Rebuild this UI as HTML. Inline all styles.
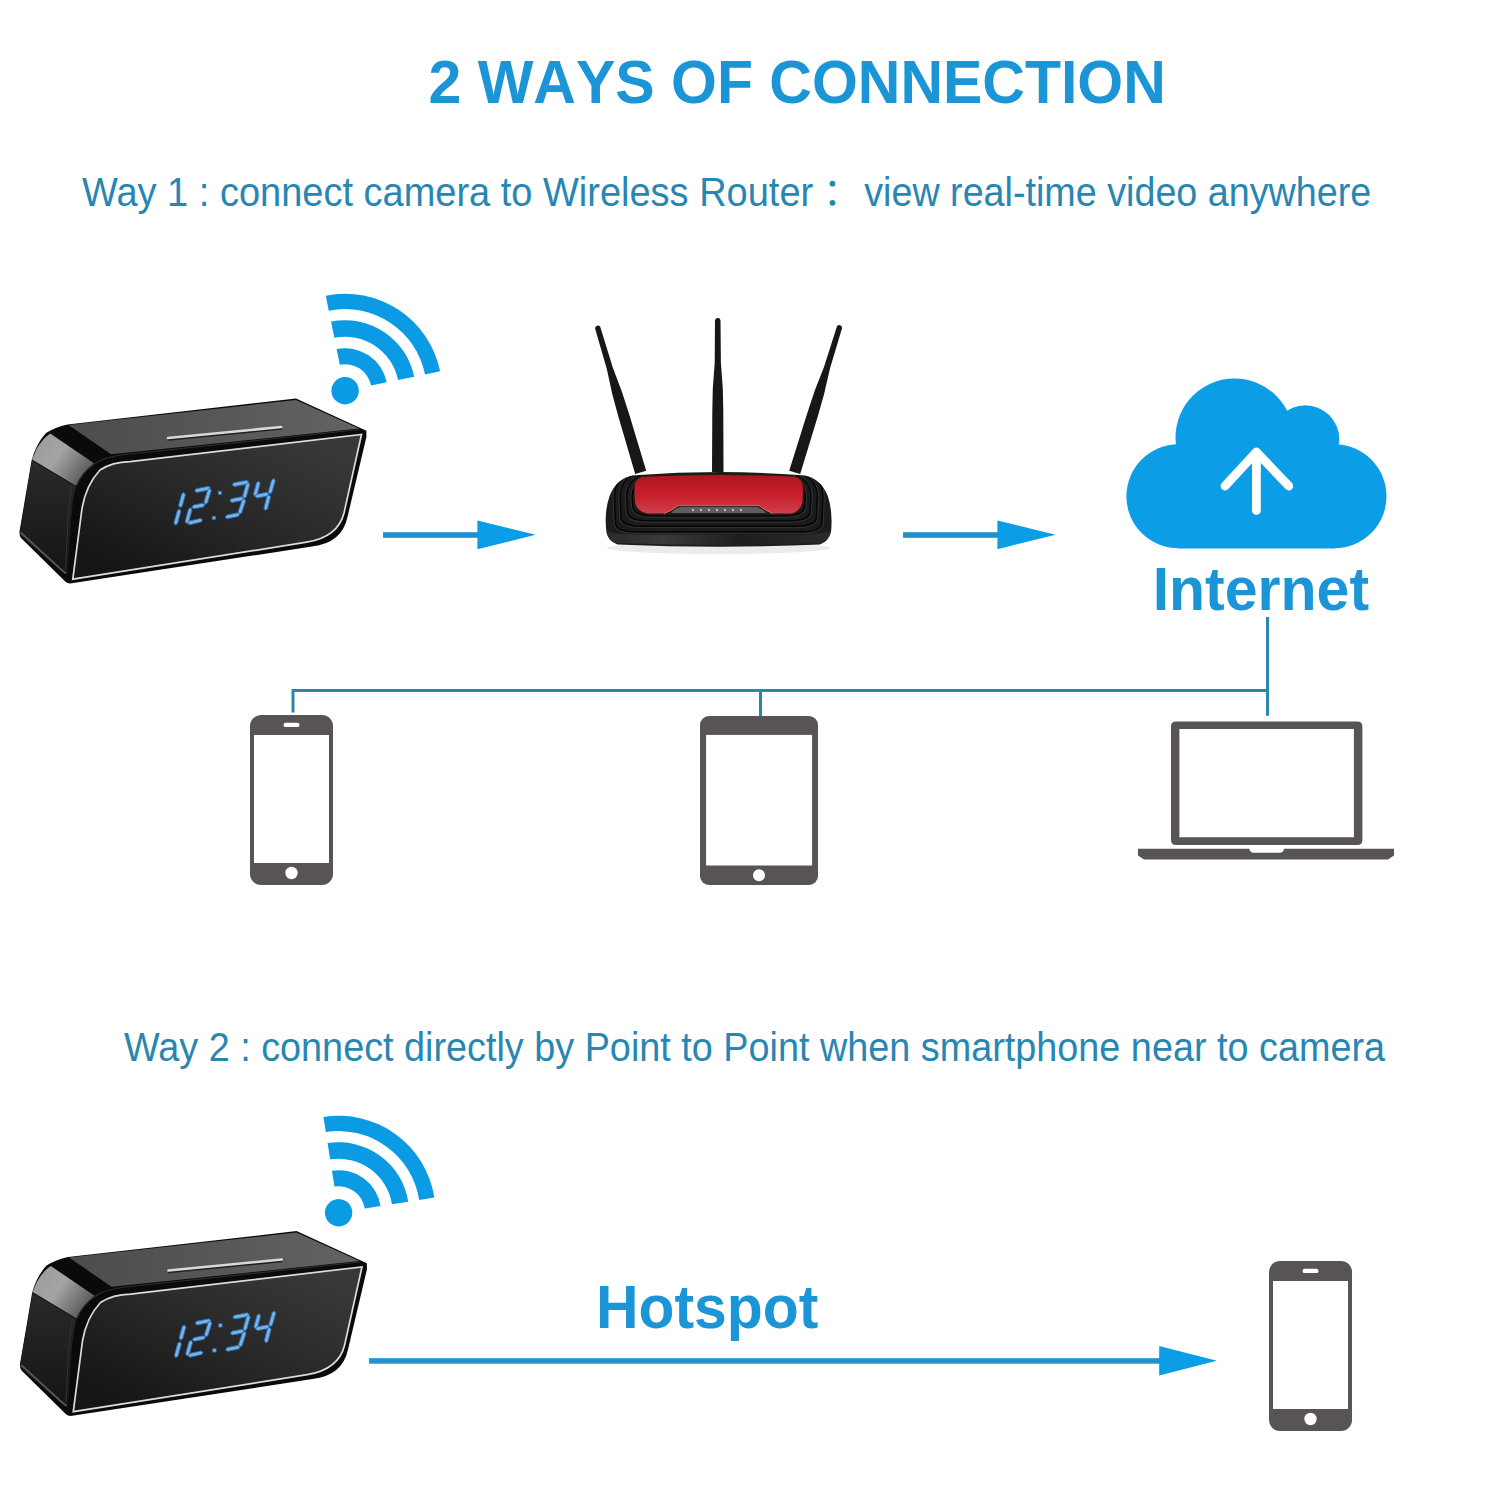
<!DOCTYPE html>
<html><head><meta charset="utf-8">
<style>
html,body{margin:0;padding:0;background:#fff;}
body{width:1500px;height:1500px;overflow:hidden;position:relative;}
svg{position:absolute;left:0;top:0;display:block;}
text{font-family:"Liberation Sans",sans-serif;}
</style></head>
<body>
<svg width="1500" height="1500" viewBox="0 0 1500 1500">
<defs>
  <linearGradient id="topface" x1="0" y1="0.5" x2="1" y2="0.5">
    <stop offset="0" stop-color="#4c4c4c"/>
    <stop offset="0.5" stop-color="#575757"/>
    <stop offset="1" stop-color="#636363"/>
  </linearGradient>
  <linearGradient id="leftface" x1="0" y1="0" x2="0" y2="1">
    <stop offset="0" stop-color="#2a2a2a"/>
    <stop offset="1" stop-color="#141414"/>
  </linearGradient>
  <linearGradient id="front" x1="0.1" y1="0.9" x2="0.9" y2="0.1">
    <stop offset="0" stop-color="#151515"/>
    <stop offset="0.5" stop-color="#282828"/>
    <stop offset="1" stop-color="#383838"/>
  </linearGradient>
  <linearGradient id="hl" x1="0" y1="0" x2="1" y2="0.6">
    <stop offset="0" stop-color="#9a9a9a"/>
    <stop offset="0.5" stop-color="#a4a4a4"/>
    <stop offset="1" stop-color="#5a5a5a"/>
  </linearGradient>
  <linearGradient id="bump" x1="0" y1="0" x2="1" y2="0">
    <stop offset="0" stop-color="#2a2a2a"/>
    <stop offset="0.25" stop-color="#3a3a3a"/>
    <stop offset="0.6" stop-color="#1e1e1e"/>
    <stop offset="1" stop-color="#2a2a2a"/>
  </linearGradient>
  <linearGradient id="red" x1="0" y1="0" x2="0" y2="1">
    <stop offset="0" stop-color="#b0161f"/>
    <stop offset="0.55" stop-color="#c6202c"/>
    <stop offset="1" stop-color="#d0404c"/>
  </linearGradient>

  <clipPath id="bodyclip"><path d="M 635.2 475.2 Q 720 469 802.2 475.2 Q 820 477 827.8 496 Q 833 512 831 532 Q 829 541 820 544.5 Q 720 549 617.4 544.5 Q 608 541 606.4 532 Q 604 512 609.6 496 Q 617 477 635.2 475.2 Z"/></clipPath>
  <g id="wifi">
    <circle cx="0" cy="0" r="13.7" fill="#0a9be4"/>
    <path d="M 0 -42.5 A 42.5 42.5 0 0 1 42.5 0 L 26.5 0 A 26.5 26.5 0 0 0 0 -26.5 Z" fill="#0a9be4"/>
    <path d="M 0 -70.5 A 70.5 70.5 0 0 1 70.5 0 L 54 0 A 54 54 0 0 0 0 -54 Z" fill="#0a9be4"/>
    <path d="M 0 -97 A 97 97 0 0 1 97 0 L 81.6 0 A 81.6 81.6 0 0 0 0 -81.6 Z" fill="#0a9be4"/>
  </g>

  <g id="clock">
    <!-- silhouette -->
    <path d="M 67.6 424.4 L 296 398.6 L 366.4 430.7 L 366.4 437 L 347.5 517 Q 342 543 312 546.5 L 70 583.6 Q 67.5 583.6 65.5 581.8 L 21 538 Q 19 535 19.6 531 L 31.6 460.4 Q 36 444 46 433 Q 55 427 67.6 424.4 Z" fill="#0a0a0a"/>
    <!-- top face -->
    <path d="M 68.5 425 L 296 400 L 359 428.5 L 111 454.2 Z" fill="url(#topface)"/>
    <!-- highlight band on rounded left edge -->
    <path d="M 36.3 449.4 Q 42 439 50.2 433.4 L 94 463.3 Q 82 474 75.8 485.7 L 32.1 459.5 Z" fill="url(#hl)"/>
    <!-- left face -->
    <path d="M 32.1 460.5 L 75.8 486.7 Q 72.5 500 71 520 L 67.5 576 L 22 537 Q 19.8 534 20.2 530 Z" fill="url(#leftface)"/>
    <!-- bottom edge highlight -->
    <path d="M 20.6 532.5 L 60 568.5 L 66 573.5" fill="none" stroke="#555" stroke-width="1.8"/>
    <path d="M 72 486 Q 69 500 68 520 L 65.5 570" fill="none" stroke="#333" stroke-width="1"/>
    <!-- rim gloss lines -->
    <path d="M 76.5 486 Q 82 472 95 463.5 Q 104 457 125 454.5 L 359.5 429.5" fill="none" stroke="#2c2c2c" stroke-width="1.2"/>
    <!-- front face panel -->
    <path d="M 130 461.6 L 361.5 434.4 L 344 513 Q 338 537 306.7 542.2 L 72.8 579.2 L 82 508.4 Q 86 485 100 470 Q 112 462 130 461.6 Z" fill="url(#front)" stroke="#dcdcdc" stroke-width="1.7"/>
    <!-- highlight bar -->
    <path d="M 168 439.8 L 281.3 428.8" stroke="#202020" stroke-width="1.8" stroke-linecap="round"/>
    <path d="M 168 438 L 281.3 427" stroke="#d8d8d8" stroke-width="2.6" stroke-linecap="round"/>
    <!-- digits -->
    <g fill="#72b4ea" stroke="#2a66a8" stroke-width="0.9" stroke-linejoin="round">
      <polygon points="184.0,492.4 181.7,493.8 178.6,505.3 180.0,507.6 182.3,506.2 185.4,494.7"/>
      <polygon points="179.6,509.2 177.3,510.6 173.9,522.8 175.2,525.2 177.5,523.8 180.9,511.6"/>
      <polygon points="194.6,491.0 196.8,492.5 209.1,490.1 210.6,487.8 208.4,486.3 196.1,488.7"/>
      <polygon points="210.0,488.4 207.7,489.7 203.9,502.0 205.2,504.4 207.5,503.1 211.3,490.8"/>
      <polygon points="191.8,507.4 194.1,508.8 203.5,506.9 205.0,504.6 202.7,503.2 193.3,505.1"/>
      <polygon points="190.8,507.6 188.5,509.0 185.1,521.2 186.4,523.6 188.7,522.2 192.1,510.0"/>
      <polygon points="187.4,523.4 189.7,524.8 201.2,522.1 202.6,519.8 200.3,518.4 188.8,521.1"/>
      <polygon points="232.2,484.9 234.4,486.5 247.5,484.1 249.0,481.9 246.8,480.3 233.7,482.7"/>
      <polygon points="248.4,482.4 246.1,483.8 242.7,496.0 244.0,498.4 246.3,497.0 249.7,484.8"/>
      <polygon points="229.8,501.0 232.0,502.5 242.3,500.5 243.8,498.2 241.6,496.7 231.3,498.7"/>
      <polygon points="244.5,498.8 242.0,500.0 238.0,511.9 239.1,514.4 241.6,513.2 245.6,501.3"/>
      <polygon points="225.0,517.4 227.3,518.8 238.3,516.5 239.8,514.2 237.5,512.8 226.5,515.1"/>
      <polygon points="258.8,481.2 256.5,482.6 253.4,494.1 254.8,496.4 257.1,495.0 260.2,483.5"/>
      <polygon points="274.0,478.4 271.7,479.7 268.3,491.6 269.6,494.0 271.9,492.7 275.3,480.8"/>
      <polygon points="255.0,496.6 257.2,498.1 267.5,496.1 269.0,493.8 266.8,492.3 256.5,494.3"/>
      <polygon points="269.2,494.8 266.9,496.2 263.8,508.1 265.2,510.4 267.5,509.0 270.6,497.1"/>
    </g>
    <rect x="218.2" y="491.2" width="3.4" height="3.4" fill="#72b4ea" stroke="#2a66a8" stroke-width="0.7"/>
    <rect x="212.2" y="516.2" width="3.4" height="3.4" fill="#72b4ea" stroke="#2a66a8" stroke-width="0.7"/>
  </g>

  <g id="phone">
    <rect x="0" y="0" width="83" height="170" rx="11" fill="#585455"/>
    <rect x="4" y="20" width="75" height="128" fill="#fff"/>
    <rect x="33.5" y="7.7" width="16" height="4.4" rx="2.2" fill="#fff"/>
    <circle cx="41.5" cy="158" r="6.2" fill="#fff"/>
  </g>
</defs>

<!-- Title -->
<text x="428.5" y="103" font-size="59" style="font-kerning:none" transform="translate(0 103) scale(1 1.03) translate(0 -103)" font-weight="bold" fill="#1b95d6">2 WAYS OF CONNECTION</text>
<text x="82" y="206" font-size="38" fill="#2886b2" transform="translate(0 206) scale(1 1.055) translate(0 -206)">Way 1 : connect camera to Wireless Router</text>
<circle cx="832.5" cy="183.7" r="2.9" fill="#2886b2"/><circle cx="832.5" cy="202.8" r="2.9" fill="#2886b2"/>
<text id="v1" x="864.2" y="206" font-size="37.7" fill="#2886b2" transform="translate(0 206) scale(1 1.055) translate(0 -206)">view real-time video anywhere</text>

<!-- clock 1 + wifi -->
<use href="#clock"/>
<use href="#wifi" transform="translate(345.1 390.7) rotate(-11.5)"/>

<!-- arrows -->
<g fill="#1e90cf">
  <rect x="383" y="532.2" width="95" height="5.6"/>
  <rect x="903" y="532.2" width="95" height="5.6"/>
</g>
<g fill="#0b9de6">
  <polygon points="477.4,520.4 535.6,534.8 477.4,549.2"/>
  <polygon points="997.4,520.4 1055.6,534.8 997.4,549.2"/>
</g>

<!-- router -->
<g id="router">
  <g fill="#171717">
  <path d="M 595.1 328.5 L 606.8 369.1 L 612.3 394.2 L 618.2 416.1 L 635.2 474.0 L 646.2 470.8 L 628.8 413.0 L 621.8 391.4 L 612.7 367.3 L 600.3 326.9 A 2.8 2.8 0 0 0 595.1 328.5 Z"/>
  <path d="M 715.0 320.3 L 714.7 362.8 L 712.8 388.6 L 712.3 411.3 L 712.0 472.0 L 723.5 472.0 L 723.3 411.3 L 722.8 388.6 L 720.9 362.8 L 720.5 320.3 A 2.8 2.8 0 0 0 715.0 320.3 Z"/>
  <path d="M 836.9 326.4 L 824.0 366.9 L 814.6 391.1 L 807.4 412.7 L 789.2 470.7 L 800.2 474.1 L 817.9 415.9 L 824.1 394.0 L 829.9 368.8 L 842.1 328.0 A 2.8 2.8 0 0 0 836.9 326.4 Z"/>
  </g>
  <!-- shadow -->
  <ellipse cx="718.7" cy="548" rx="112" ry="6" fill="#000" opacity="0.08"/>
  <!-- body silhouette -->
  <path d="M 635.2 475.2 Q 720 469 802.2 475.2 Q 820 477 827.8 496 Q 833 512 831 532 Q 829 541 820 544.5 Q 720 549 617.4 544.5 Q 608 541 606.4 532 Q 604 512 609.6 496 Q 617 477 635.2 475.2 Z" fill="#1b1b1b"/>
  <!-- bumper highlight -->
  <path d="M 607 531 Q 612 534 640 534.5 L 797 534.5 Q 825 534 830.5 531 Q 830 540 820 543 Q 720 547 617 543 Q 607 540 607 531 Z" fill="url(#bump)"/>
  <!-- ring lines -->
  <g fill="none" clip-path="url(#bodyclip)">
    <path d="M 646.0 476 Q 632.0 482 632.0 498 L 633.0 507.0 Q 634.0 516.0 654.0 516.0 L 783.4 516.0 Q 803.4 516.0 804.4 507.0 L 805.4 498 Q 805.4 482 791.4 476" stroke="#050505" stroke-width="1.6"/>
    <path d="M 644.7 476 Q 630.7 482 630.7 498 L 631.7 508.3 Q 632.7 517.3 652.7 517.3 L 784.7 517.3 Q 804.7 517.3 805.7 508.3 L 806.7 498 Q 806.7 482 792.7 476" stroke="#3a3a3a" stroke-width="0.8"/>
    <path d="M 640.4 475 Q 626.4 481 626.4 497 L 627.4 511.8 Q 628.4 520.8 648.4 520.8 L 789.0 520.8 Q 809.0 520.8 810.0 511.8 L 811.0 497 Q 811.0 481 797.0 475" stroke="#050505" stroke-width="1.6"/>
    <path d="M 639.1 475 Q 625.1 481 625.1 497 L 626.1 513.1 Q 627.1 522.1 647.1 522.1 L 790.3 522.1 Q 810.3 522.1 811.3 513.1 L 812.3 497 Q 812.3 481 798.3 475" stroke="#3a3a3a" stroke-width="0.8"/>
    <path d="M 634.0 474.5 Q 620.0 480.5 620.0 496.5 L 621.0 517.4 Q 622.0 526.4 642.0 526.4 L 795.4 526.4 Q 815.4 526.4 816.4 517.4 L 817.4 496.5 Q 817.4 480.5 803.4 474.5" stroke="#050505" stroke-width="1.6"/>
    <path d="M 632.7 474.5 Q 618.7 480.5 618.7 496.5 L 619.7 518.7 Q 620.7 527.7 640.7 527.7 L 796.7 527.7 Q 816.7 527.7 817.7 518.7 L 818.7 496.5 Q 818.7 480.5 804.7 474.5" stroke="#3a3a3a" stroke-width="0.8"/>
    <path d="M 628.4 474 Q 614.4 480 614.4 496 L 615.4 523.0 Q 616.4 532.0 636.4 532.0 L 801.0 532.0 Q 821.0 532.0 822.0 523.0 L 823.0 496 Q 823.0 480 809.0 474" stroke="#050505" stroke-width="1.6"/>
    <path d="M 627.1 474 Q 613.1 480 613.1 496 L 614.1 524.3 Q 615.1 533.3 635.1 533.3 L 802.3 533.3 Q 822.3 533.3 823.3 524.3 L 824.3 496 Q 824.3 480 810.3 474" stroke="#3a3a3a" stroke-width="0.8"/>
  </g>
  <!-- red panel -->
  <path d="M 643 476.8 Q 720 473 794.4 476.8 Q 803 478 803 490 L 802.5 502 Q 801 511 791 513.6 L 773 513.6 Q 766 511 759 505.6 L 678.4 505.6 Q 671 511 664 513.6 L 648 513.6 Q 636 511 635 502 L 634.4 490 Q 634.4 478 643 476.8 Z" fill="url(#red)"/>
  <path d="M 664 513.6 Q 671 511 678.4 505.6 L 759 505.6 Q 766 511 773 513.6" fill="none" stroke="#e07078" stroke-width="0.9"/>
  <path d="M 680 507 L 757 507 Q 763 509 766 513 L 671 513 Q 674 509 680 507 Z" fill="#5e5e5e"/>
  <g fill="#f0f0f0">
    <circle cx="693" cy="510" r="0.9"/><circle cx="701" cy="510" r="0.9"/><circle cx="709" cy="510" r="0.9"/><circle cx="717" cy="510" r="0.9"/><circle cx="725" cy="510" r="0.9"/><circle cx="733" cy="510" r="0.9"/><circle cx="741" cy="510" r="0.9"/>
  </g>
</g>

<!-- cloud -->
<g fill="#0b9ee6">
  <circle cx="1234.5" cy="437.5" r="59"/>
  <circle cx="1305.3" cy="439.3" r="34"/>
  <circle cx="1178.4" cy="496.3" r="52"/>
  <circle cx="1334.5" cy="496.3" r="52"/>
  <rect x="1178.4" y="444.3" width="156.1" height="104.2"/>
</g>
<g stroke="#fff" stroke-width="8.8" stroke-linecap="round" stroke-linejoin="round" fill="none">
  <path d="M 1256.4 453 L 1256.4 510.5"/>
  <path d="M 1225 486 L 1256.4 452 L 1288.8 486"/>
</g>
<text x="1152.7" y="610" font-size="59" font-weight="bold" fill="#1b95d6" transform="translate(0 610) scale(1 1.042) translate(0 -610)">Internet</text>

<!-- connector lines -->
<g stroke="#2c87ae" stroke-width="3" fill="none">
  <path d="M 293 712.5 L 293 690.5 L 1267.5 690.5"/>
  <path d="M 760.5 690.5 L 760.5 716"/>
  <path d="M 1267.5 617 L 1267.5 715.8"/>
</g>

<!-- devices -->
<use href="#phone" transform="translate(250 715)"/>
<g>
  <rect x="700" y="716" width="118" height="169" rx="9" fill="#585455"/>
  <rect x="706.1" y="734.9" width="106" height="130.6" fill="#fff"/>
  <circle cx="759" cy="875.3" r="6" fill="#fff"/>
</g>
<g fill="#585455">
  <path fill-rule="evenodd" d="M 1176 721.6 L 1357.4 721.6 Q 1362.4 721.6 1362.4 726.6 L 1362.4 839.9 Q 1362.4 844.9 1357.4 844.9 L 1176 844.9 Q 1171 844.9 1171 839.9 L 1171 726.6 Q 1171 721.6 1176 721.6 Z M 1179.4 729 L 1179.4 837.2 L 1353.9 837.2 L 1353.9 729 Z"/>
  <path d="M 1138 848.8 L 1249.3 848.8 Q 1250 852.8 1254 852.8 L 1279 852.8 Q 1283.9 852.8 1283.9 848.8 L 1394 848.8 L 1394 855.6 L 1388 859.6 L 1144 859.6 L 1138 855.6 Z"/>
</g>

<!-- Way 2 -->
<text x="124" y="1061" font-size="37.8" fill="#2886b2" transform="translate(0 1061) scale(1 1.075) translate(0 -1061)">Way 2 : connect directly by Point to Point when smartphone near to camera</text>

<use href="#clock" transform="translate(0.5 832.5)"/>
<use href="#wifi" transform="translate(338.6 1212.7) rotate(-9)"/>

<text x="596" y="1328" font-size="58.9" font-weight="bold" fill="#1b95d6" transform="translate(0 1328) scale(1 1.04) translate(0 -1328)">Hotspot</text>
<rect x="369" y="1358.2" width="791" height="5.5" fill="#1f93d2"/>
<polygon points="1159.2,1346 1216.8,1360.8 1159.2,1375.6" fill="#0b9de6"/>
<use href="#phone" transform="translate(1269 1261)"/>
</svg>
</body></html>
